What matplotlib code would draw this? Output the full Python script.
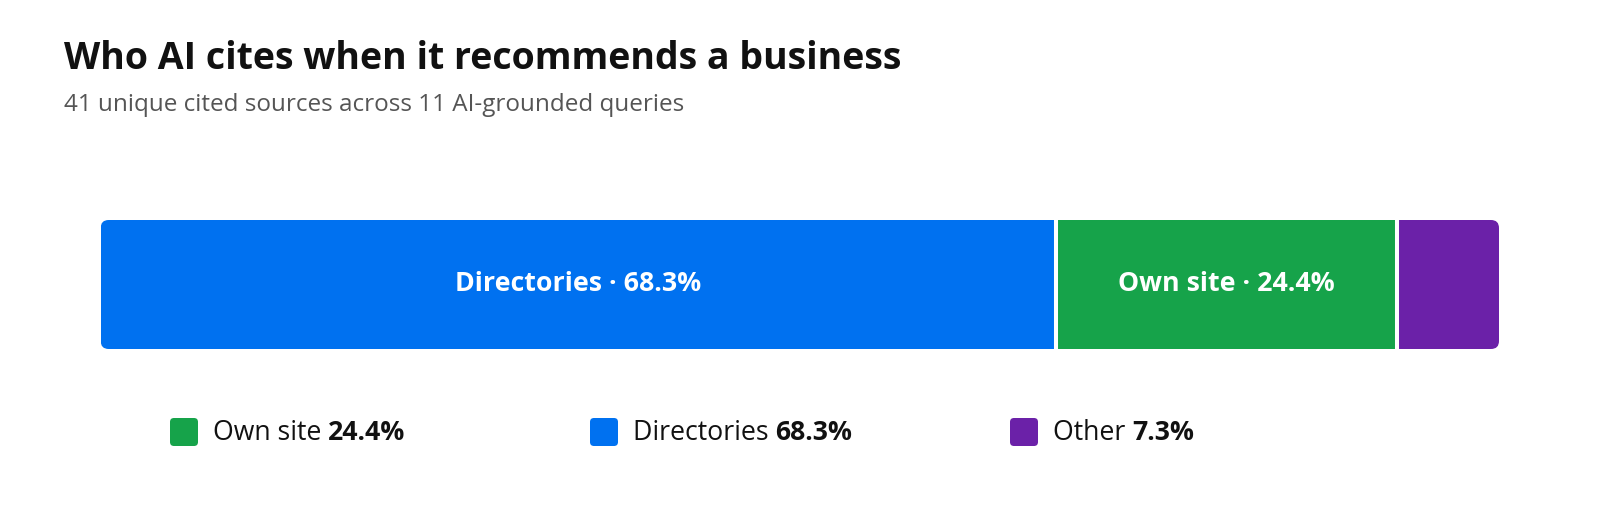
import matplotlib
matplotlib.use("Agg")
import matplotlib.pyplot as plt
from matplotlib.patches import FancyBboxPatch
import numpy as np

plt.rcParams['font.family'] = ['Open Sans', 'DejaVu Sans']

# data
title = "Who AI cites when it recommends a business"
subtitle = "41 unique cited sources across 11 AI-grounded queries"
bar_labels = ["Directories", "Own site", "Other"]
bar_values = [68.3, 24.4, 7.3]
bar_colors = ["#0071F0", "#16A34A", "#6B21A8"]
legend_order = ["Own site", "Directories", "Other"]

W, H = 1600, 520
fig = plt.figure(figsize=(W / 100, H / 100), dpi=100)

# overlay in pixel units for text / legend
over = fig.add_axes([0, 0, 1, 1])
over.set_xlim(0, W)
over.set_ylim(H, 0)
over.axis('off')

over.text(64, 69, title, fontsize=27, fontweight='bold', color='#111111', va='baseline', ha='left')
over.text(64, 111, subtitle, fontsize=17.5, color='#555555', va='baseline', ha='left')

# stacked bar
bx0, by0, bw, bh = 100.7, 220, 1398.3, 129
ax = fig.add_axes([bx0 / W, 1 - (by0 + bh) / H, bw / W, bh / H])
ax.set_xlim(0, sum(bar_values))
ax.set_ylim(-0.5, 0.5)
ax.axis('off')

clip = FancyBboxPatch((bx0, by0), bw, bh, boxstyle="round,pad=0,rounding_size=8",
                      transform=over.transData, facecolor='none', edgecolor='none')

lefts = np.concatenate([[0], np.cumsum(bar_values)[:-1]])
bars = ax.barh(0, bar_values, left=lefts, height=1, color=bar_colors, linewidth=0)
for b in bars:
    b.set_clip_path(clip)
for x in np.cumsum(bar_values)[:-1]:
    ax.axvline(x, color='white', lw=2.9)

for lab, v, l in zip(bar_labels, bar_values, lefts):
    if v >= 10:
        ax.text(l + v / 2, 0, f"{lab} · {v:.1f}%", color='white', fontsize=19.3,
                fontweight='bold', ha='center', va='center')

# legend
fig.canvas.draw()
renderer = fig.canvas.get_renderer()
leg_x = [170, 590, 1010]
for name, x in zip(legend_order, leg_x):
    i = bar_labels.index(name)
    sq = FancyBboxPatch((x, 418), 28, 28, boxstyle="round,pad=0,rounding_size=4",
                        facecolor=bar_colors[i], edgecolor='none', transform=over.transData)
    over.add_patch(sq)
    t = over.text(x + 43, 440, name + " ", fontsize=19.2, color='#111111', va='baseline', ha='left')
    ext = t.get_window_extent(renderer)
    over.text(x + 43 + ext.width, 440, f"{bar_values[i]:.1f}%", fontsize=19.2,
              fontweight='bold', color='#111111', va='baseline', ha='left')

fig.savefig("out.png", dpi=100, facecolor='white')
